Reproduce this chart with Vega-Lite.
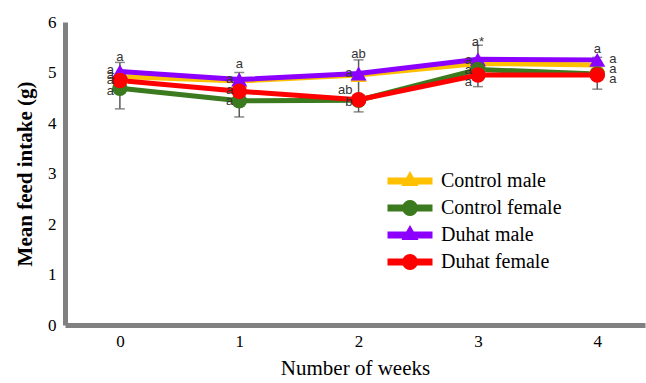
{
  "$schema": "https://vega.github.io/schema/vega-lite/v6.json",
  "width": 580,
  "height": 303,
  "autosize": {"type": "none"},
  "padding": {"left": 65, "top": 22, "right": 1, "bottom": 58},
  "background": "white",
  "config": {
    "font": "Liberation Serif",
    "view": {"stroke": null},
    "style": {"guide-label": {"font": "Liberation Serif", "fill": "#000000"}, "guide-title": {"font": "Liberation Serif", "fill": "#000000"}},
    "axis": {
      "grid": false,
      "ticks": false,
      "domainColor": "#808080",
      "domainWidth": 5,
      "labelFont": "Liberation Serif",
      "labelFontSize": 17,
      "titleFont": "Liberation Serif",
      "titleFontSize": 21,
      "titleColor": "#000000"
    },
    "legend": {"labelFont": "Liberation Serif", "labelFontSize": 20}
  },
  "datasets": {
    "series": [
      {"week": 0, "value": 4.92, "series": "Control male", "sex": "male"},
      {"week": 1, "value": 4.83, "series": "Control male", "sex": "male"},
      {"week": 2, "value": 4.95, "series": "Control male", "sex": "male"},
      {"week": 3, "value": 5.18, "series": "Control male", "sex": "male"},
      {"week": 4, "value": 5.15, "series": "Control male", "sex": "male"},
      {"week": 0, "value": 4.69, "series": "Control female", "sex": "female"},
      {"week": 1, "value": 4.44, "series": "Control female", "sex": "female"},
      {"week": 2, "value": 4.45, "series": "Control female", "sex": "female"},
      {"week": 3, "value": 5.06, "series": "Control female", "sex": "female"},
      {"week": 4, "value": 4.97, "series": "Control female", "sex": "female"},
      {"week": 0, "value": 5.02, "series": "Duhat male", "sex": "male"},
      {"week": 1, "value": 4.86, "series": "Duhat male", "sex": "male"},
      {"week": 2, "value": 4.98, "series": "Duhat male", "sex": "male"},
      {"week": 3, "value": 5.26, "series": "Duhat male", "sex": "male"},
      {"week": 4, "value": 5.25, "series": "Duhat male", "sex": "male"},
      {"week": 0, "value": 4.84, "series": "Duhat female", "sex": "female"},
      {"week": 1, "value": 4.63, "series": "Duhat female", "sex": "female"},
      {"week": 2, "value": 4.46, "series": "Duhat female", "sex": "female"},
      {"week": 3, "value": 4.95, "series": "Duhat female", "sex": "female"},
      {"week": 4, "value": 4.95, "series": "Duhat female", "sex": "female"}
    ],
    "errors": [
      {"week": 0, "lo": 4.28, "hi": 5.2},
      {"week": 1, "lo": 4.12, "hi": 5.0},
      {"week": 2, "lo": 4.22, "hi": 5.25},
      {"week": 3, "lo": 4.72, "hi": 5.54},
      {"week": 4, "lo": 4.67, "hi": 5.3}
    ],
    "lettersLeft": [
      {"week": 0, "y": 5.05, "label": "a"},
      {"week": 0, "y": 4.95, "label": "a"},
      {"week": 0, "y": 4.85, "label": "a"},
      {"week": 0, "y": 4.64, "label": "a"},
      {"week": 1, "y": 4.87, "label": "a"},
      {"week": 1, "y": 4.65, "label": "a"},
      {"week": 1, "y": 4.44, "label": "a"},
      {"week": 2, "y": 4.99, "label": "a"},
      {"week": 2, "y": 4.65, "label": "ab"},
      {"week": 2, "y": 4.42, "label": "b"},
      {"week": 3, "y": 5.25, "label": "a"},
      {"week": 3, "y": 5.04, "label": "a"},
      {"week": 3, "y": 4.82, "label": "a"}
    ],
    "lettersTop": [
      {"week": 0, "y": 5.31, "label": "a"},
      {"week": 1, "y": 5.17, "label": "a"},
      {"week": 2, "y": 5.37, "label": "ab"},
      {"week": 3, "y": 5.61, "label": "a*"},
      {"week": 4, "y": 5.47, "label": "a"}
    ],
    "lettersRight": [
      {"week": 4, "y": 5.26, "label": "a"},
      {"week": 4, "y": 5.07, "label": "a"},
      {"week": 4, "y": 4.88, "label": "a"}
    ]
  },
  "layer": [
    {
      "data": {"name": "series"},
      "mark": {"type": "point", "filled": true, "size": 10, "opacity": 1, "strokeWidth": 0},
      "encoding": {
        "x": {
          "field": "week", "type": "quantitative",
          "scale": {"domain": [-0.46, 4.4], "nice": false, "zero": false},
          "axis": {"values": [0, 1, 2, 3, 4], "format": "d", "title": "Number of weeks", "labelFont": "Liberation Serif", "labelFontSize": 17, "labelColor": "#000000", "labelPadding": 8, "titlePadding": 8, "titleFontWeight": "normal"}
        },
        "y": {
          "field": "value", "type": "quantitative",
          "scale": {"domain": [0, 6], "nice": false},
          "axis": {"values": [0, 1, 2, 3, 4, 5, 6], "title": "Mean feed intake (g)", "labelFont": "Liberation Serif", "labelFontSize": 17, "labelColor": "#000000", "labelPadding": 9, "titlePadding": 12, "titleFontWeight": "bold"}
        },
        "color": {
          "field": "series", "type": "nominal",
          "scale": {"domain": ["Control male", "Control female", "Duhat male", "Duhat female"], "range": ["#FFC000", "#3B7A1F", "#8B00FF", "#FF0000"]},
          "legend": {
            "orient": "none", "legendX": 330, "legendY": 144, "title": null,
            "labelFont": "Liberation Serif", "labelFontSize": 20, "labelColor": "#000000",
            "symbolSize": 900, "symbolOpacity": 1, "symbolStrokeWidth": 0, "labelOffset": 16
          }
        },
        "shape": {
          "field": "series", "type": "nominal",
          "scale": {
            "domain": ["Control male", "Control female", "Duhat male", "Duhat female"],
            "range": [
              "M-1.5,-0.23L-0.251,-0.23L0,-0.67L0.251,-0.23L1.5,-0.23L1.5,0.23L0.513,0.23L0.57,0.33L-0.57,0.33L-0.513,0.23L-1.5,0.23Z",
              "M-1.5,-0.23L-0.4775,-0.23A0.53,0.53 0 0,1 0.4775,-0.23L1.5,-0.23L1.5,0.23L0.4775,0.23A0.53,0.53 0 0,1 -0.4775,0.23L-1.5,0.23Z",
              "M-1.5,-0.23L-0.251,-0.23L0,-0.67L0.251,-0.23L1.5,-0.23L1.5,0.23L0.513,0.23L0.57,0.33L-0.57,0.33L-0.513,0.23L-1.5,0.23Z",
              "M-1.5,-0.23L-0.4775,-0.23A0.53,0.53 0 0,1 0.4775,-0.23L1.5,-0.23L1.5,0.23L0.4775,0.23A0.53,0.53 0 0,1 -0.4775,0.23L-1.5,0.23Z"
            ]
          }
        }
      }
    },
    {
      "data": {"name": "errors"},
      "mark": {"type": "rule", "color": "#5a5a5a", "strokeWidth": 1.5},
      "encoding": {
        "x": {"field": "week", "type": "quantitative"},
        "y": {"field": "lo", "type": "quantitative"},
        "y2": {"field": "hi"}
      }
    },
    {
      "data": {"name": "errors"},
      "mark": {"type": "tick", "orient": "horizontal", "color": "#5a5a5a", "size": 10, "thickness": 1.5},
      "encoding": {
        "x": {"field": "week", "type": "quantitative"},
        "y": {"field": "lo", "type": "quantitative"}
      }
    },
    {
      "data": {"name": "errors"},
      "mark": {"type": "tick", "orient": "horizontal", "color": "#5a5a5a", "size": 10, "thickness": 1.5},
      "encoding": {
        "x": {"field": "week", "type": "quantitative"},
        "y": {"field": "hi", "type": "quantitative"}
      }
    },
    {
      "data": {"name": "series"},
      "mark": {"type": "line", "strokeWidth": 5},
      "encoding": {
        "x": {"field": "week", "type": "quantitative"},
        "y": {"field": "value", "type": "quantitative"},
        "stroke": {
          "field": "series", "type": "nominal",
          "scale": {"domain": ["Control male", "Control female", "Duhat male", "Duhat female"], "range": ["#FFC000", "#3B7A1F", "#8B00FF", "#FF0000"]},
          "legend": null
        }
      }
    },
    {
      "data": {"name": "series"},
      "transform": [{"filter": "datum.sex === 'male'"}],
      "mark": {"type": "point", "shape": "triangle-up", "filled": true, "opacity": 1, "size": 260, "strokeWidth": 0},
      "encoding": {
        "x": {"field": "week", "type": "quantitative"},
        "y": {"field": "value", "type": "quantitative"},
        "fill": {
          "field": "series", "type": "nominal",
          "scale": {"domain": ["Control male", "Control female", "Duhat male", "Duhat female"], "range": ["#FFC000", "#3B7A1F", "#8B00FF", "#FF0000"]},
          "legend": null
        }
      }
    },
    {
      "data": {"name": "series"},
      "transform": [{"filter": "datum.sex === 'female'"}],
      "mark": {"type": "point", "shape": "circle", "filled": true, "opacity": 1, "size": 240, "strokeWidth": 0},
      "encoding": {
        "x": {"field": "week", "type": "quantitative"},
        "y": {"field": "value", "type": "quantitative"},
        "fill": {"field": "series", "type": "nominal", "legend": null}
      }
    },
    {
      "data": {"name": "lettersLeft"},
      "mark": {"type": "text", "align": "right", "baseline": "middle", "dx": -6, "font": "Liberation Sans", "fontSize": 13, "color": "#333333"},
      "encoding": {
        "x": {"field": "week", "type": "quantitative"},
        "y": {"field": "y", "type": "quantitative"},
        "text": {"field": "label"}
      }
    },
    {
      "data": {"name": "lettersTop"},
      "mark": {"type": "text", "align": "center", "baseline": "middle", "font": "Liberation Sans", "fontSize": 13, "color": "#333333"},
      "encoding": {
        "x": {"field": "week", "type": "quantitative"},
        "y": {"field": "y", "type": "quantitative"},
        "text": {"field": "label"}
      }
    },
    {
      "data": {"name": "lettersRight"},
      "mark": {"type": "text", "align": "left", "baseline": "middle", "dx": 12, "font": "Liberation Sans", "fontSize": 13, "color": "#333333"},
      "encoding": {
        "x": {"field": "week", "type": "quantitative"},
        "y": {"field": "y", "type": "quantitative"},
        "text": {"field": "label"}
      }
    }
  ]
}
